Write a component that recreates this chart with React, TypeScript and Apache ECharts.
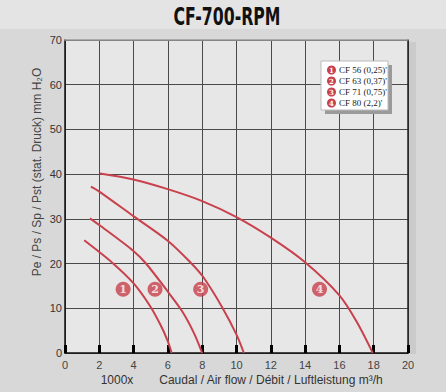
import React, { useEffect, useRef } from "react";
import * as echarts from "echarts";

const titleText = "CF-700-RPM";
const yAxisName = "Pe / Ps / Sp / Pst (stat. Druck) mm H₂O";
const xAxisPrefix = "1000x";
const xAxisName = "Caudal / Air flow / Débit / Luftleistung m³/h";

const xMin = 0;
const xMax = 20;
const xStep = 2;
const yMin = 0;
const yMax = 70;
const yStep = 10;

const curve1 = [[1.12, 25.2], [2.77, 20.15], [3.99, 15.62], [4.94, 10.62], [5.58, 6.19], [5.99, 2.68], [6.22, 0]];
const curve2 = [[1.45, 30.11], [2.0, 28.62], [3.99, 22.83], [4.71, 20.07], [5.99, 13.75], [6.84, 9.29], [7.52, 4.46], [8.0, 0]];
const curve3 = [[1.51, 37.2], [2.0, 36.1], [4.03, 30.5], [5.99, 25.1], [7.33, 20.2], [8.04, 17.1], [9.17, 10.2], [10.0, 4.1], [10.43, 0]];
const curve4 = [[2.03, 40.15], [3.99, 38.81], [5.99, 36.65], [8.0, 33.98], [10.0, 30.4], [12.0, 25.8], [14.0, 20.3], [16.0, 12.9], [17.0, 7.06], [17.95, 0]];
const curves = [curve1, curve2, curve3, curve4];

const markerNames = ["1", "2", "3", "4"];
const markerPos = [[3.39, 14.28], [5.25, 14.28], [7.91, 14.28], [14.84, 14.28]];
const legendLabels = ["CF 56 (0,25)'", "CF 63 (0,37)'", "CF 71 (0,75)'", "CF 80 (2,2)'"];

const RED = "#c8414c";

export default function App() {
  const ref = useRef<HTMLDivElement>(null);
  useEffect(() => {
    if (!ref.current) return;
    const chart = echarts.init(ref.current, undefined, { renderer: "svg" });

    const gridLeft = 65, gridTop = 40, gridRight = 38, gridBottom = 39;

    const legendGraphics: any[] = [
      { type: "rect", shape: { x: 325, y: 65, width: 67, height: 49 }, style: { fill: "#9a9a9a" }, z: 10 },
      { type: "rect", shape: { x: 321, y: 61, width: 67, height: 49 }, style: { fill: "#ffffff", stroke: "#bbbbbb", lineWidth: 1 }, z: 11 },
    ];
    legendLabels.forEach((lab, i) => {
      const cy = 70 + i * 11;
      legendGraphics.push({ type: "circle", shape: { cx: 331.5, cy, r: 4.5 }, style: { fill: RED }, z: 12 });
      legendGraphics.push({
        type: "text", x: 331.5, y: cy + 0.5,
        style: { text: markerNames[i], fill: "#fff", font: "bold 7px 'DejaVu Serif'", align: "center", verticalAlign: "middle" }, z: 13,
      });
      legendGraphics.push({
        type: "text", x: 339, y: cy,
        style: { text: lab, fill: "#222", font: "9px 'Liberation Serif'", align: "left", verticalAlign: "middle" }, z: 13,
      });
    });

    chart.setOption({
      animation: false,
      backgroundColor: "#d8d8d8",
      grid: {
        left: gridLeft, top: gridTop, right: gridRight, bottom: gridBottom,
        show: true, backgroundColor: "#e7e7e7", borderWidth: 0,
      },
      xAxis: [
        {
          type: "value", min: xMin, max: xMax, interval: xStep,
          axisLine: { show: true, lineStyle: { color: "#111", width: 1.5 } },
          axisTick: { show: true, inside: true, length: 8, lineStyle: { color: "#000", width: 3 } },
          axisLabel: { color: "#444", fontSize: 11, fontFamily: "Liberation Sans", margin: 6 },
          splitLine: { show: true, lineStyle: { color: "#4a4a4a", width: 1 } },
        },
        {
          type: "value", position: "top", min: xMin, max: xMax, interval: xStep,
          axisLine: { show: true, onZero: false, lineStyle: { color: "#999", width: 1.5 } },
          axisTick: { show: false }, axisLabel: { show: false }, splitLine: { show: false },
        },
      ],
      yAxis: [
        {
          type: "value", min: yMin, max: yMax, interval: yStep,
          axisLine: { show: true, lineStyle: { color: "#111", width: 1.5 } },
          axisTick: { show: false },
          axisLabel: { color: "#333", fontSize: 11, fontFamily: "Liberation Sans", margin: 3 },
          splitLine: { show: true, lineStyle: { color: "#4a4a4a", width: 1 } },
        },
        {
          type: "value", position: "right", min: yMin, max: yMax, interval: yStep,
          axisLine: { show: true, onZero: false, lineStyle: { color: "#222", width: 1.5 } },
          axisTick: { show: false }, axisLabel: { show: false }, splitLine: { show: false },
        },
      ],
      series: [
        {
          type: "custom",
          coordinateSystem: "cartesian2d",
          xAxisIndex: 0,
          yAxisIndex: 0,
          data: curves.map((c, i) => [c[0][0], c[0][1], i]),
          encode: { x: 0, y: 1 },
          renderItem: (params: any, api: any) => {
            const idx = api.value(2);
            const pts = curves[idx].map((p) => api.coord(p));
            return {
              type: "polyline",
              shape: { points: pts, smooth: 0.3 },
              style: { stroke: RED, lineWidth: 2, fill: null },
            };
          },
          z: 3,
        },
        {
          type: "scatter",
          data: markerPos.map((p, i) => ({ value: p, name: markerNames[i] })),
          symbol: "circle",
          symbolSize: 15,
          itemStyle: { color: RED },
          label: {
            show: true, position: "inside", formatter: (p: any) => p.name,
            color: "#fff", fontWeight: "bold", fontSize: 11, fontFamily: "DejaVu Serif",
          },
          z: 5,
        },
      ],
      graphic: [
        { type: "rect", shape: { x: 0, y: 0, width: 446, height: 29 }, style: { fill: "#e4e4e4" }, z: -1 },
        { type: "rect", shape: { x: 409, y: 42, width: 7, height: 312 }, style: { fill: "#cbcbcb" }, z: -1 },
        {
          type: "text", x: 227, y: 16, scaleX: 0.7,
          style: { text: titleText, fill: "#111", font: "bold 25px 'Liberation Sans Narrow', 'DejaVu Sans Condensed'", align: "center", verticalAlign: "middle" },
        },
        {
          type: "text", x: 37, y: 172, rotation: Math.PI / 2,
          style: { text: yAxisName, fill: "#444", font: "12px 'Liberation Sans'", align: "center", verticalAlign: "middle" },
        },
        {
          type: "text", x: 117, y: 380,
          style: { text: xAxisPrefix, fill: "#333", font: "12px 'Liberation Sans'", align: "center", verticalAlign: "middle" },
        },
        {
          type: "text", x: 271, y: 380,
          style: { text: xAxisName, fill: "#333", font: "12px 'Liberation Sans'", align: "center", verticalAlign: "middle" },
        },
        ...legendGraphics,
      ],
    });
    return () => chart.dispose();
  }, []);
  return <div ref={ref} style={{ width: 446, height: 392, position: "absolute", left: 0, top: 0 }} />;
}
